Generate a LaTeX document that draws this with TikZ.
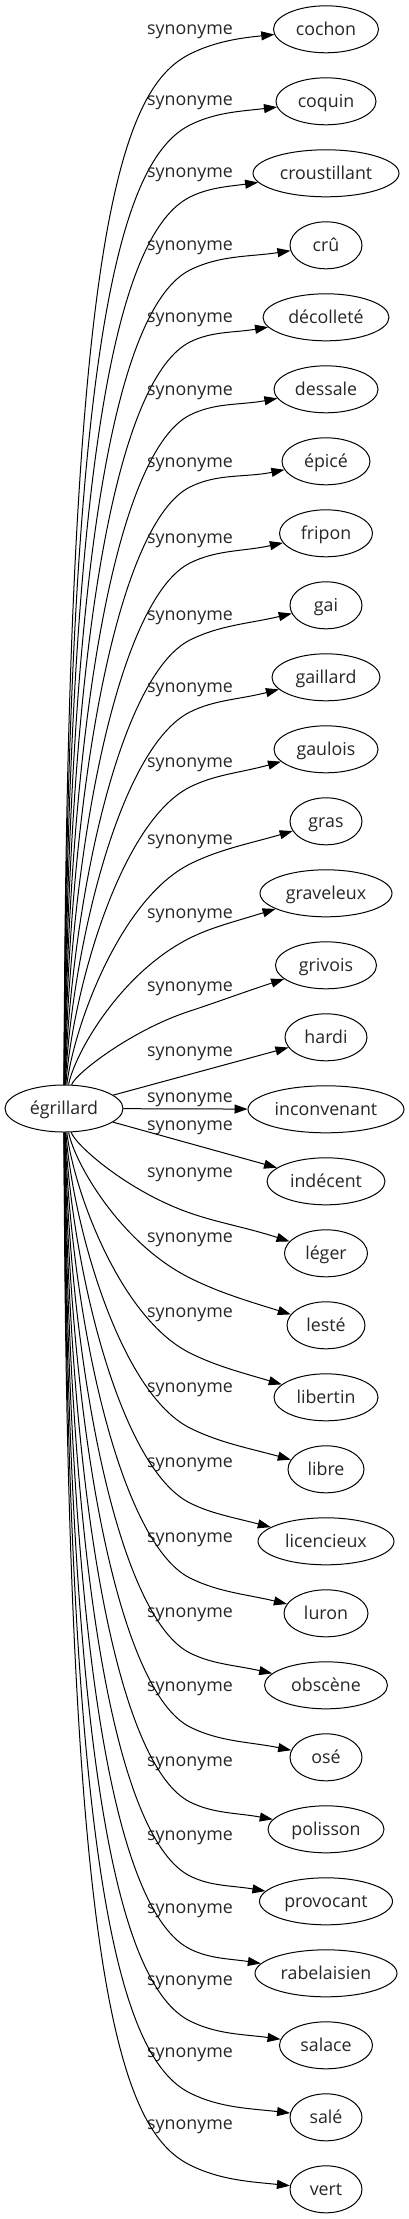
\documentclass[tikz,border=0pt]{standalone}
\usepackage{fontspec}
\setmainfont{Open Sans}
\usetikzlibrary{arrows.meta,shapes.geometric}
\begin{document}
\begin{tikzpicture}[x=1pt,y=-1pt,
  font=\fontsize{17.8}{20}\selectfont,
  wnode/.style={draw, ellipse, line width=1pt, inner sep=1pt, minimum height=47pt,
    text height=14.5pt, text depth=2.5pt, text=black!85},
  syn/.style={anchor=base, inner sep=0pt, text=black!85},
  link/.style={line width=1pt, -{Triangle[length=13pt,width=9pt]}}]
\useasboundingbox (0,0) rectangle (409,2219);
\node[wnode, minimum width=118pt] (eg) at (64,1108.5) {égrillard};
\foreach \i/\t/\w/\L in {
 0/cochon/105/30, 1/coquin/100/101, 2/croustillant/146/173, 3/crû/72/246,
 4/décolleté/126/318, 5/dessale/104/391, 6/épicé/88/463, 7/fripon/93/539,
 8/gai/72/616, 9/gaillard/108/688, 10/gaulois/104/763, 11/gras/72/840,
 12/graveleux/132/914, 13/grivois/101/987, 14/hardi/82/1052,
 15/inconvenant/156/1098, 16/indécent/118/1126, 17/léger/83/1173,
 18/lesté/78/1238, 19/libertin/104/1313, 20/libre/76/1388,
 21/licencieux/136/1463, 22/luron/84/1538, 23/obscène/123/1613,
 24/osé/72/1687, 25/polisson/116/1762, 26/provocant/133/1836,
 27/rabelaisien/142/1909, 28/salace/93/1981, 29/salé/72/2053, 30/vert/72/2125}{
  \pgfmathsetmacro\yy{29.3+72*\i}
  \node[wnode, minimum width=\w pt] (n\i) at (326,\yy) {\t};
  \node[syn] (s\i) at (190,\L+4.5) {synonyme};
  \pgfmathtruncatemacro\near{and(\i>13,\i<17)}
  \ifnum\near=1
    \draw[link] (eg) -- (n\i);
  \else
    \ifnum\i<14 \pgfmathsetmacro\q{\L+24}\else\pgfmathsetmacro\q{\L+40}\fi
    \pgfmathsetmacro\Tx{326-\w/2}
    \pgfmathsetmacro\D{\Tx-190}
    \pgfmathsetmacro\dd{1108.5-\q}
    \pgfmathsetmacro\sg{ifthenelse(\dd>0,1,-1)}
    \pgfmathsetmacro\ad{abs(\dd)}
    \pgfmathsetmacro\Sy{1108.5-\sg*22}
    \pgfmathsetmacro\fr{min(0.85,0.1+0.00068*\ad)}
    \pgfmathsetmacro\ax{66+10*(1-\ad/1060)}
    \pgfmathsetmacro\ay{\Sy-\fr*(\Sy-\q)}
    \pgfmathsetmacro\m{-\sg*0.5*min(1,\ad/150)}
    \pgfmathsetmacro\dxb{min(70,0.6*\ad)}
    \pgfmathsetmacro\bx{190-\dxb}
    \pgfmathsetmacro\by{\q-\dxb*\m}
    \pgfmathsetmacro\cx{190+0.3*\D}
    \pgfmathsetmacro\cy{\q+0.3*\D*\m}
    \pgfmathsetmacro\ex{\Tx-0.4*\D}
    \pgfmathsetmacro\sa{0.1+0.25*(1-\ad/1060)}
    \pgfmathsetmacro\ey{\yy+\sg*(326-\ex)*\sa}
    \draw[link] (eg) .. controls (\ax,\ay) and (\bx,\by) .. (190,\q)
      .. controls (\cx,\cy) and (\ex,\ey) .. (n\i);
  \fi
}
\end{tikzpicture}
\end{document}
